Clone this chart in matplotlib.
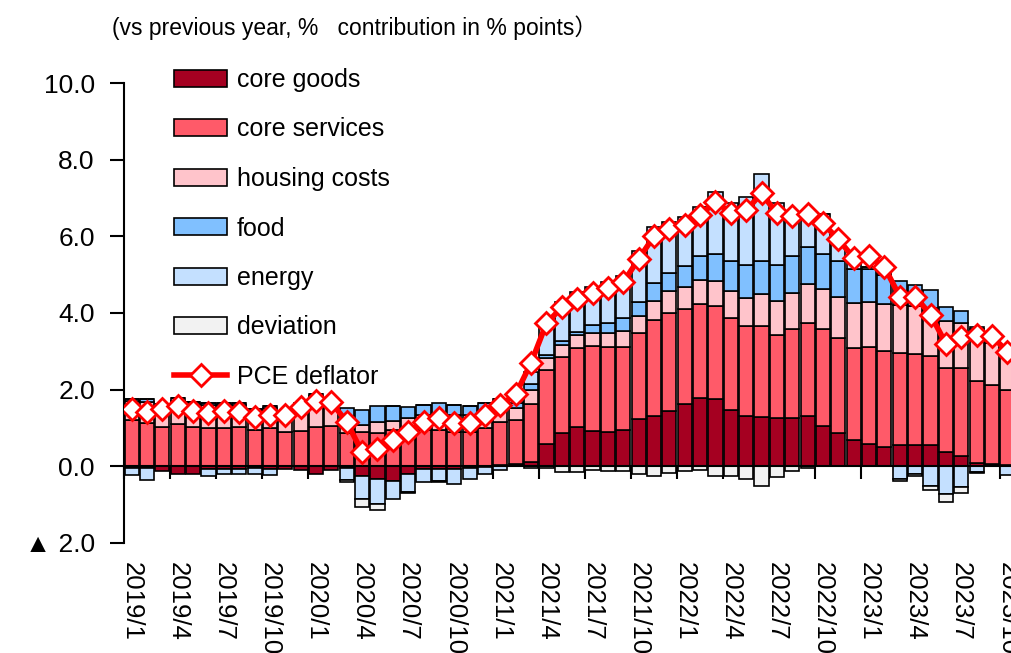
import numpy as np
import matplotlib
matplotlib.use('Agg')
import matplotlib.pyplot as plt
from matplotlib.transforms import blended_transform_factory

plt.rcParams['font.family'] = ['Liberation Sans', 'DejaVu Sans', 'Noto Sans CJK JP']

months = [
    "2019/1", "2019/2", "2019/3", "2019/4", "2019/5", "2019/6", "2019/7", "2019/8", "2019/9", "2019/10", "2019/11", "2019/12",
    "2020/1", "2020/2", "2020/3", "2020/4", "2020/5", "2020/6", "2020/7", "2020/8", "2020/9", "2020/10", "2020/11", "2020/12",
    "2021/1", "2021/2", "2021/3", "2021/4", "2021/5", "2021/6", "2021/7", "2021/8", "2021/9", "2021/10", "2021/11", "2021/12",
    "2022/1", "2022/2", "2022/3", "2022/4", "2022/5", "2022/6", "2022/7", "2022/8", "2022/9", "2022/10", "2022/11", "2022/12",
    "2023/1", "2023/2", "2023/3", "2023/4", "2023/5", "2023/6", "2023/7", "2023/8", "2023/9", "2023/10",
]

core_goods = [
    -0.05, -0.05, -0.13, -0.19, -0.20, -0.06, -0.08, -0.08, -0.04, -0.06, -0.08, -0.10,
    -0.19, -0.10, -0.05, -0.26, -0.32, -0.37, -0.20, -0.08, -0.07, -0.06, -0.04, -0.02,
    0.03, 0.05, 0.12, 0.58, 0.86, 1.03, 0.92, 0.90, 0.95, 1.23, 1.31, 1.45,
    1.63, 1.79, 1.75, 1.48, 1.31, 1.29, 1.25, 1.27, 1.31, 1.06, 0.86, 0.70,
    0.59, 0.51, 0.55, 0.55, 0.55, 0.38, 0.26, 0.10, 0.05, 0.04,
]
core_services = [
    1.20, 1.13, 1.03, 1.10, 1.03, 1.01, 1.01, 1.03, 0.96, 0.99, 0.90, 0.92,
    1.03, 1.06, 0.87, 0.90, 0.86, 0.94, 0.98, 0.94, 0.94, 0.90, 0.90, 0.99,
    1.13, 1.15, 1.51, 1.93, 2.00, 2.07, 2.22, 2.22, 2.17, 2.24, 2.51, 2.56,
    2.47, 2.44, 2.42, 2.39, 2.35, 2.37, 2.18, 2.31, 2.44, 2.52, 2.50, 2.40,
    2.52, 2.51, 2.40, 2.37, 2.33, 2.19, 2.30, 2.13, 2.07, 1.95,
]
housing = [
    0.50, 0.55, 0.55, 0.60, 0.60, 0.58, 0.58, 0.57, 0.52, 0.52, 0.50, 0.68,
    0.75, 0.65, 0.45, 0.17, 0.30, 0.24, 0.27, 0.39, 0.37, 0.44, 0.43, 0.35,
    0.40, 0.31, 0.35, 0.32, 0.31, 0.33, 0.35, 0.37, 0.42, 0.46, 0.50, 0.57,
    0.59, 0.64, 0.66, 0.71, 0.73, 0.83, 0.89, 0.94, 1.01, 1.05, 1.07, 1.16,
    1.17, 1.22, 1.26, 1.25, 1.25, 1.21, 1.17, 1.35, 1.10, 1.07,
]
food = [
    0.05, 0.07, 0.05, 0.07, 0.05, 0.07, 0.05, 0.04, 0.02, 0.06, 0.03, 0.04,
    0.06, 0.06, 0.20, 0.41, 0.41, 0.39, 0.29, 0.28, 0.35, 0.26, 0.24, 0.30,
    0.20, 0.13, 0.18, 0.08, 0.09, 0.07, 0.20, 0.26, 0.33, 0.37, 0.46, 0.46,
    0.53, 0.61, 0.71, 0.77, 0.85, 0.87, 0.92, 0.98, 0.96, 0.92, 0.92, 0.88,
    0.86, 0.76, 0.62, 0.57, 0.48, 0.37, 0.31, 0.05, 0.05, 0.03,
]
energy = [
    -0.18, -0.30, 0.00, 0.00, 0.00, -0.19, -0.12, -0.12, -0.16, -0.17, 0.00, 0.00,
    0.05, 0.00, -0.30, -0.59, -0.66, -0.48, -0.47, -0.33, -0.30, -0.40, -0.30, -0.18,
    -0.10, 0.22, 0.31, 0.87, 1.04, 1.04, 0.98, 1.06, 1.09, 1.31, 1.46, 1.34,
    1.28, 1.28, 1.62, 1.53, 1.78, 2.26, 1.64, 1.13, 0.91, 1.02, 0.57, 0.28,
    0.05, 0.05, -0.32, -0.21, -0.50, -0.72, -0.54, -0.15, 0.00, -0.22,
]
deviation = [
    0.00, 0.00, 0.00, 0.00, 0.00, 0.00, 0.00, 0.00, 0.00, 0.00, 0.00, 0.00,
    0.00, 0.00, -0.05, -0.21, -0.15, 0.00, -0.03, 0.00, -0.03, 0.00, 0.00, 0.00,
    0.00, 0.00, -0.05, -0.05, -0.15, -0.15, -0.10, -0.12, -0.12, -0.20, -0.24, -0.18,
    -0.13, -0.10, -0.26, -0.26, -0.33, -0.50, -0.28, -0.13, -0.05, 0.00, 0.00, 0.00,
    0.00, 0.00, -0.07, -0.05, -0.13, -0.22, -0.16, -0.03, 0.00, 0.00,
]
pce_deflator = [
    1.49, 1.42, 1.49, 1.58, 1.45, 1.40, 1.45, 1.42, 1.29, 1.33, 1.33, 1.54,
    1.70, 1.67, 1.16, 0.37, 0.44, 0.70, 0.90, 1.16, 1.25, 1.12, 1.13, 1.35,
    1.60, 1.88, 2.70, 3.73, 4.15, 4.36, 4.52, 4.65, 4.80, 5.41, 6.00, 6.20,
    6.29, 6.55, 6.90, 6.61, 6.68, 7.12, 6.60, 6.52, 6.57, 6.34, 5.92, 5.44,
    5.48, 5.20, 4.43, 4.43, 3.96, 3.20, 3.37, 3.43, 3.40, 2.99,
]

tick_labels = ["2019/1", "2019/4", "2019/7", "2019/10", "2020/1", "2020/4", "2020/7", "2020/10",
               "2021/1", "2021/4", "2021/7", "2021/10", "2022/1", "2022/4", "2022/7", "2022/10",
               "2023/1", "2023/4", "2023/7", "2023/10"]
y_ticks = [-2, 0, 2, 4, 6, 8, 10]
y_tick_labels = ["▲ 2.0", "0.0", "2.0", "4.0", "6.0", "8.0", "10.0"]

series = [
    ("core goods", core_goods, "#A50021"),
    ("core services", core_services, "#FF5A69"),
    ("housing costs", housing, "#FFC4CB"),
    ("food", food, "#80C0FF"),
    ("energy", energy, "#C4E0FF"),
    ("deviation", deviation, "#F2F2F2"),
]

W, H = 1012, 653
fig = plt.figure(figsize=(W / 100, H / 100), dpi=100)
ax = fig.add_axes([124 / W, (H - 543) / H, 891 / W, 460 / H])

n = len(months)
x = np.arange(n)
pos = np.zeros(n)
neg = np.zeros(n)
bar_handles = []
for label, vals, color in series:
    v = np.array(vals, dtype=float)
    bottom = np.where(v >= 0, pos, neg)
    b = ax.bar(x, v, bottom=bottom, width=0.92, color=color, edgecolor='black',
               linewidth=1.2, label=label, zorder=2)
    bar_handles.append(b)
    pos += np.where(v >= 0, v, 0)
    neg += np.where(v < 0, v, 0)

line, = ax.plot(x, pce_deflator, color='#FF0000', lw=4, marker='D', ms=11,
                mfc='white', mec='#FF0000', mew=2, label='PCE deflator', zorder=4)

ax.set_xlim(-0.5, n - 0.5)
ax.set_ylim(-2, 10)
for s in ['top', 'right']:
    ax.spines[s].set_visible(False)
ax.spines['bottom'].set_position(('data', 0))
ax.spines['bottom'].set_linewidth(1.5)
ax.spines['left'].set_linewidth(1.5)
ax.spines['bottom'].set_zorder(3)

ax.set_yticks(y_ticks)
ax.set_yticklabels(y_tick_labels)
ax.tick_params(axis='y', direction='out', length=10, width=1.5, pad=11, labelsize=19)
ax.set_xticks(np.arange(-0.5, n, 3))
ax.tick_params(axis='x', direction='out', length=9, width=1.5, labelbottom=False)

trans = blended_transform_factory(ax.transData, ax.transAxes)
for k, lab in enumerate(tick_labels):
    ax.text(3 * k, -0.041, lab, rotation=270, ha='center', va='top', fontsize=18.5,
            transform=trans, clip_on=False)

fig.text(112 / W, 1 - 28 / H, "(vs previous year, %   contribution in % points）",
         fontsize=16.5, ha='left', va='center')

handles = bar_handles + [line]
labels = [s[0] for s in series] + ['PCE deflator']
fig.legend(handles, labels, loc='upper left', bbox_to_anchor=(174 / W, 1 - 68 / H),
           frameon=False, fontsize=18, handlelength=2.12, handleheight=0.68,
           handletextpad=0.4, labelspacing=1.02, borderpad=0, borderaxespad=0,
           numpoints=1)

fig.savefig('out.png', dpi=100)
